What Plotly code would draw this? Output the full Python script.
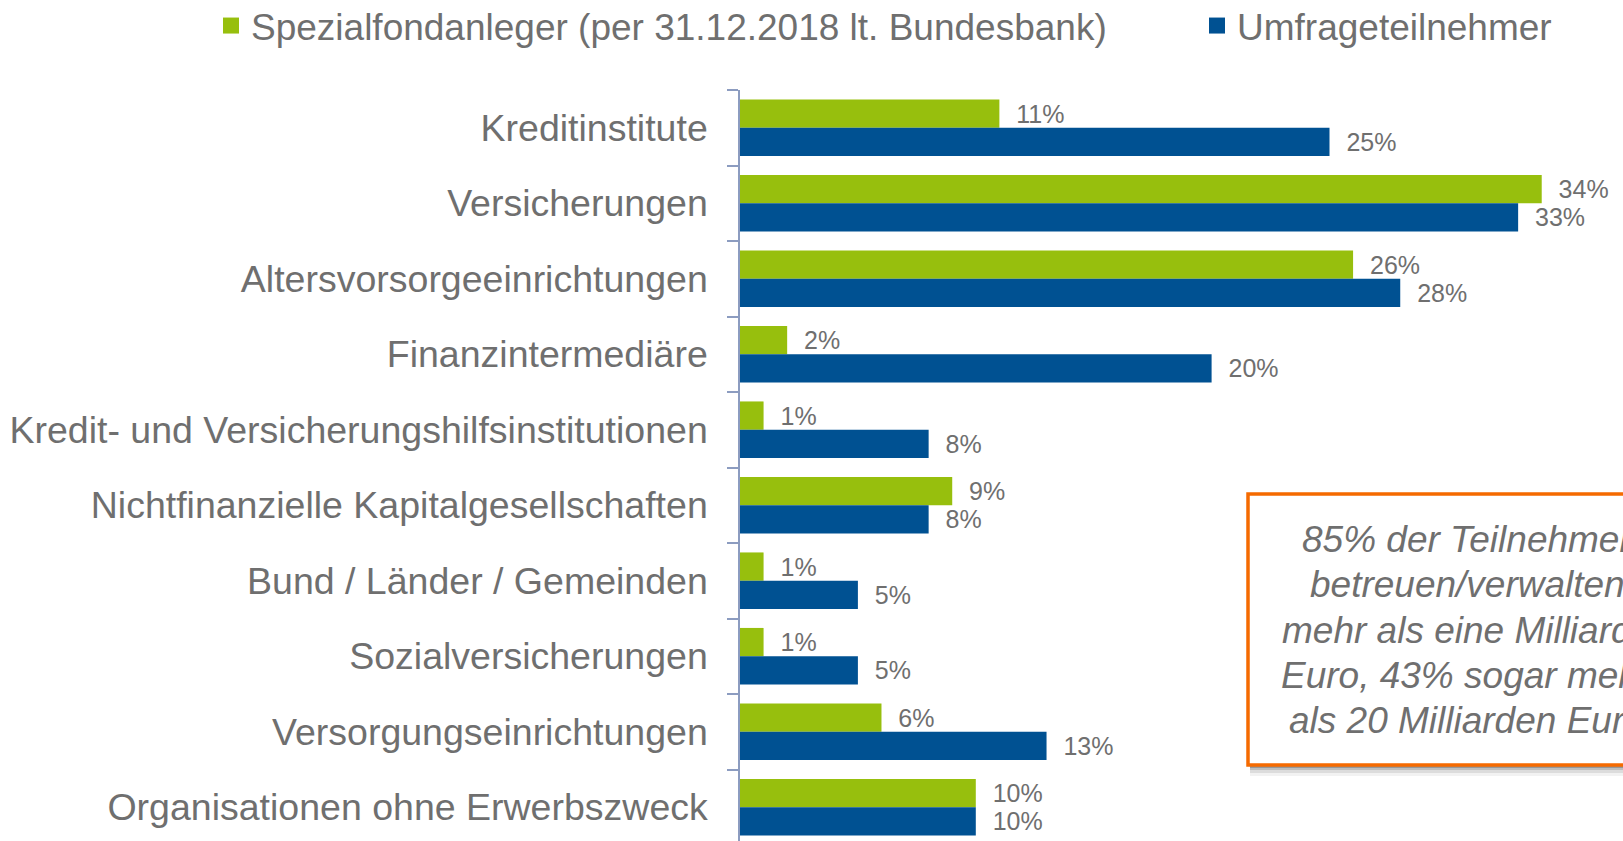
import plotly.graph_objects as go

categories = [
    "Kreditinstitute",
    "Versicherungen",
    "Altersvorsorgeeinrichtungen",
    "Finanzintermediäre",
    "Kredit- und Versicherungshilfsinstitutionen",
    "Nichtfinanzielle Kapitalgesellschaften",
    "Bund / Länder / Gemeinden",
    "Sozialversicherungen",
    "Versorgungseinrichtungen",
    "Organisationen ohne Erwerbszweck",
]
spezialfond = [11, 34, 26, 2, 1, 9, 1, 1, 6, 10]
umfrage = [25, 33, 28, 20, 8, 8, 5, 5, 13, 10]

series_names = ["Spezialfondanleger (per 31.12.2018 lt. Bundesbank)", "Umfrageteilnehmer"]
note_lines = [
    "85% der Teilnehmer",
    "betreuen/verwalten",
    "mehr als eine Milliarde",
    "Euro, 43% sogar mehr",
    "als 20 Milliarden Euro",
]

GREEN = "#97bf0d"
BLUE = "#005192"
GRAY = "#6f6f6f"
AXIS = "#8c9cc0"
ORANGE = "#f56a00"
FONT = "Liberation Sans, Arial, sans-serif"

W, H = 1623, 841
ML, MT = 740, 90
PW, PH = W - ML, H - MT

def px_x(p):
    return (p - ML) / PW

def px_y(p):
    return (H - p) / PH

fig = go.Figure()
for name, vals, col, lg in [(series_names[0], spezialfond, GREEN, "legend"),
                            (series_names[1], umfrage, BLUE, "legend2")]:
    fig.add_trace(go.Bar(
        y=categories, x=vals, orientation="h", name=name, showlegend=False,
        marker=dict(color=col, line=dict(width=0)),
        texttemplate="  %{x}%", textposition="outside",
        textfont=dict(size=25, color=GRAY, family=FONT),
        constraintext="none", cliponaxis=False,
    ))
    # legend entry with a larger square swatch
    fig.add_trace(go.Scatter(
        x=[None], y=[None], mode="markers", name=name, legend=lg,
        marker=dict(symbol="square", size=16, color=col, line=dict(width=0)),
        hoverinfo="skip",
    ))

legend_common = dict(
    orientation="h", xref="paper", yref="paper", xanchor="left",
    y=px_y(26), yanchor="middle", itemsizing="trace",
    font=dict(size=37, color=GRAY, family=FONT),
    bgcolor="rgba(0,0,0,0)",
)

cat_px = 75.5
fig.update_layout(
    width=W, height=H,
    margin=dict(l=ML, r=0, t=MT, b=0, autoexpand=False),
    paper_bgcolor="white", plot_bgcolor="white",
    barmode="group", bargap=0.25, bargroupgap=0,
    font=dict(family=FONT, color=GRAY),
    showlegend=True,
    legend=dict(x=px_x(211), **legend_common),
    legend2=dict(x=px_x(1197), **legend_common),
    xaxis=dict(range=[0, PW / 23.58], visible=False, showgrid=False, zeroline=False),
    yaxis=dict(
        type="category", categoryorder="array", categoryarray=categories,
        range=[-0.5 + PH / cat_px, -0.5],
        tickson="boundaries", ticks="outside", ticklen=11, tickwidth=1.5,
        tickcolor=AXIS, showline=True, linecolor=AXIS, linewidth=1.5,
        showgrid=False, zeroline=False, automargin=False,
        tickfont=dict(size=37.5, color=GRAY, family=FONT),
        ticklabelstandoff=23,
    ),
)

# note box: soft shadow, then white box with orange border
box_l, box_t, box_r, box_b = 1248, 494, 1700, 765
for off, alpha in [(11, 0.05), (8, 0.09), (5, 0.14), (3, 0.2)]:
    fig.add_shape(type="rect", xref="paper", yref="paper",
                  x0=px_x(box_l + 2), x1=px_x(box_r + off),
                  y0=px_y(box_b + off), y1=px_y(box_t + off),
                  fillcolor=f"rgba(0,0,0,{alpha})", line=dict(width=0), layer="above")
fig.add_shape(type="rect", xref="paper", yref="paper",
              x0=px_x(box_l), x1=px_x(box_r), y0=px_y(box_b), y1=px_y(box_t),
              fillcolor="white", line=dict(color=ORANGE, width=3.5), layer="above")

text_cx = 1467
line_y0, line_dy = 539.5, 45.3
for i, line in enumerate(note_lines):
    fig.add_annotation(
        xref="paper", yref="paper", x=px_x(text_cx), y=px_y(line_y0 + i * line_dy),
        xanchor="center", yanchor="middle", text=line, showarrow=False,
        font=dict(size=37, color=GRAY, family=FONT, style="italic"),
    )

fig.write_html(
    "out.html",
    config={"displayModeBar": False},
    post_script="document.body.style.margin='0';document.body.style.overflow='hidden';",
)
